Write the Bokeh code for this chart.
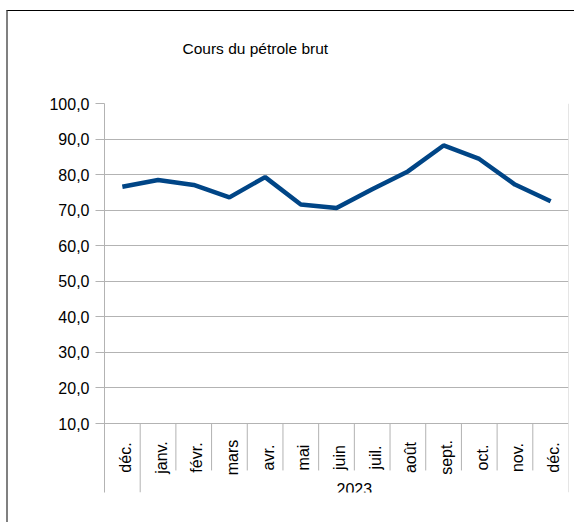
import math
from bokeh.plotting import figure
from bokeh.models import Range1d, FixedTicker, Span, Label, Title
from bokeh.core.properties import value
from bokeh.embed import file_html
from bokeh.resources import INLINE

# ---- data ----
title_text = "Cours du pétrole brut"
months = ["déc.", "janv.", "févr.", "mars", "avr.", "mai", "juin",
          "juil.", "août", "sept.", "oct.", "nov.", "déc."]
prices = [76.6, 78.5, 77.1, 73.6, 79.3, 71.6, 70.6,
          75.9, 80.9, 88.2, 84.4, 77.2, 72.5]
year_label = "2023"
year_first_index = 1
y_ticks = [10, 20, 30, 40, 50, 60, 70, 80, 90, 100]
y_tick_labels = ["10,0", "20,0", "30,0", "40,0", "50,0", "60,0",
                 "70,0", "80,0", "90,0", "100,0"]

FONT = "Liberation Sans"
GRID = "#b3b3b3"
LINE = "#004586"

y_min = 10
y_bottom = -9.4      # room below the value axis for the category labels
sep_short_end = -3.2

xs = list(range(len(months)))

p = figure(width=568, height=512, output_backend="svg", toolbar_location=None,
           x_range=Range1d(-0.5, len(months) - 0.5),
           y_range=Range1d(y_bottom, y_ticks[-1]),
           x_axis_location=None,
           min_border_left=96, min_border_right=8,
           min_border_top=92, min_border_bottom=31)
p.outline_line_color = None
p.background_fill_color = "white"
p.border_fill_color = "white"
p.styles = {"border-top": "1px solid #000000",
            "border-left": "2px solid #808080",
            "margin-top": "10px",
            "margin-left": "6px"}

# spacer between plot area and title, then the title itself
p.add_layout(Title(text=" ", text_font_size="1px", standoff=43), "above")
p.add_layout(Title(text=title_text, align="left", offset=78, standoff=0,
                   vertical_align="middle", text_font=FONT,
                   text_font_size="15.5px", text_font_style="normal",
                   text_color="#000000"), "above")

# y axis
yax = p.yaxis[0]
yax.ticker = FixedTicker(ticks=y_ticks)
yax.major_label_overrides = {t: l for t, l in zip(y_ticks, y_tick_labels)}
yax.axis_line_color = GRID
yax.major_tick_line_color = GRID
yax.major_tick_out = 9
yax.major_tick_in = 0
yax.minor_tick_line_color = None
yax.major_label_standoff = 6
yax.major_label_text_font = FONT
yax.major_label_text_font_size = "16px"
yax.major_label_text_color = "#000000"

p.ygrid.ticker = FixedTicker(ticks=y_ticks)
p.ygrid.grid_line_color = GRID
p.xgrid.grid_line_color = None

# category separators
inner = [i + 0.5 for i in range(year_first_index, len(months) - 1)]
p.segment(x0=inner, y0=[y_min] * len(inner), x1=inner, y1=[sep_short_end] * len(inner),
          line_color=GRID, line_width=1)
grp = [year_first_index - 0.5]
p.segment(x0=grp, y0=[y_min], x1=grp, y1=[y_bottom], line_color=GRID, line_width=1)
p.add_layout(Span(location=len(months) - 0.5, dimension="height",
                  line_color="#cccccc", line_width=1))

# month labels
p.text(x=xs, y=[y_min] * len(xs), text=months, angle=math.pi / 2,
       text_align="center", text_baseline="middle", y_offset=34, x_offset=3,
       text_font=value(FONT), text_font_size=value("16px"), text_color="#000000")

# year label
p.add_layout(Label(x=(year_first_index - 0.5 + len(months) - 0.5) / 2, y=y_bottom,
                   text=year_label, text_align="center", text_baseline="middle",
                   y_offset=4, text_font=FONT, text_font_size="16px",
                   text_color="#000000"))

# series
p.line(xs, prices, line_color=LINE, line_width=4.5)

open("out.html", "w").write(file_html(p, INLINE))
